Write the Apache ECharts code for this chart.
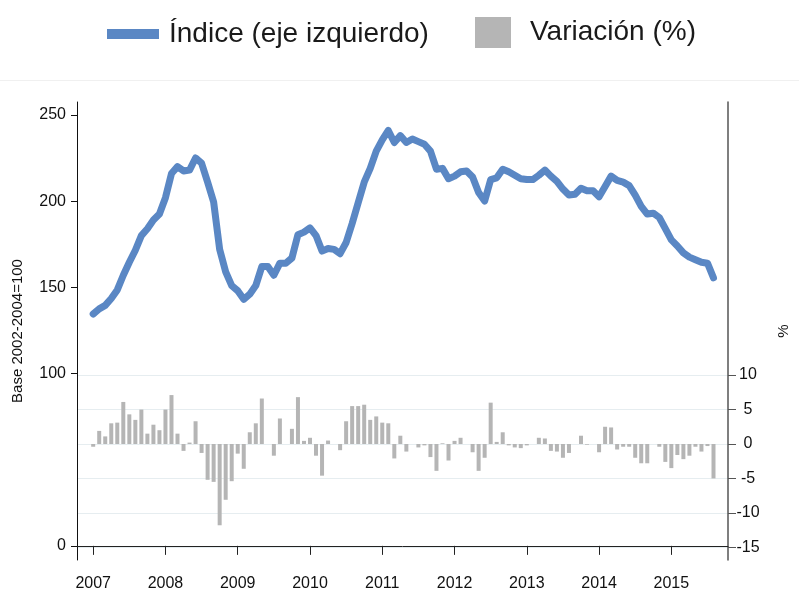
<!DOCTYPE html>
<html>
<head>
<meta charset="utf-8">
<title>Índice y variación</title>
<script src="https://cdn.jsdelivr.net/npm/echarts@6/dist/echarts.min.js"></script>
<style>
  html, body { margin: 0; padding: 0; background: #fff; }
  #chart { width: 799px; height: 592px; }
</style>
</head>
<body>
<div id="chart"></div>
<script>
// datos mensuales, enero 2007 - agosto 2015
const startYear = 2007;
const indice = [
  134.5, 137.5, 139.5, 143.5, 148.5, 157, 164.5, 171.5, 180, 184, 189, 192.5,
  202, 216, 220, 217.5, 218, 225, 222, 211, 199.5, 172, 159, 151,
  148, 143, 146, 151, 162, 162, 157, 164, 164, 167, 180.5, 182,
  184.5, 180, 171, 172.5, 172, 169.5, 176, 187, 199, 211, 219, 229,
  235.5, 241, 234, 238, 234, 236, 234.5, 233, 229, 218.5, 219, 213,
  214.5, 217, 217.5, 214, 205, 200, 212.5, 213.5, 218.5, 217, 215, 213,
  212.5, 212.5, 215, 218, 214.5, 211.5, 207, 203.5, 204, 207.5, 206, 206,
  202.5, 208.5, 214.5, 212, 211, 209, 203.5, 197, 192.5, 193, 190.5, 184,
  177.5, 174, 170, 167.5, 166, 164.5, 164, 155.5
];
const variacion = [
  -0.4, 1.9, 1.1, 3.0, 3.1, 6.1, 4.3, 3.5, 5.0, 1.5, 2.8, 2.0,
  5.0, 7.1, 1.5, -1.0, 0.2, 3.3, -1.3, -5.2, -5.5, -11.8, -8.1, -5.4,
  -1.4, -3.6, 1.7, 3.0, 6.6, 0, -1.7, 3.7, 0, 2.2, 6.8, 0.45,
  0.9, -1.7, -4.6, 0.5, 0, -0.9, 3.3, 5.5, 5.5, 5.7, 3.5, 4.0,
  3.1, 3.0, -2.1, 1.2, -1.1, 0, -0.5, -0.2, -1.9, -3.9, 0.1, -2.4,
  0.45, 0.9, 0, -1.2, -3.9, -2.0, 6.0, 0.3, 1.7, -0.2, -0.5, -0.6,
  -0.2, 0, 0.9, 0.8, -1.0, -1.1, -2.0, -1.3, 0, 1.2, -0.1, 0,
  -1.2, 2.5, 2.4, -0.8, -0.4, -0.4, -2.0, -2.8, -2.8, 0, -0.4, -2.6,
  -3.5, -1.6, -2.2, -1.7, -0.4, -1.1, -0.3, -5.0
];
const yearTicks = [2007, 2008, 2009, 2010, 2011, 2012, 2013, 2014, 2015];
const leftTicks = [0, 100, 150, 200, 250];
const rightTicks = [-15, -10, -5, 0, 5, 10];

const font = "'Liberation Sans', Arial, sans-serif";
const blue = '#5a87c4';
const grey = '#b5b5b5';

// posición de cada mes en años decimales
const toX = i => startYear + i / 12;
const lineData = indice.map((v, i) => [toX(i), v]);
const barData = variacion.map((v, i) => [toX(i), v]);

const chart = echarts.init(document.getElementById('chart'));
chart.setOption({
  animation: false,
  backgroundColor: '#fff',
  textStyle: { fontFamily: font },
  legend: [
    {
      data: ['Índice (eje izquierdo)'],
      left: 107, top: 20, padding: 0,
      icon: 'rect', itemWidth: 52, itemHeight: 10,
      textStyle: { fontSize: 28, color: '#1a1a1a', fontFamily: font, padding: [0, 0, 0, 5] }
    },
    {
      data: ['Variación (%)'],
      left: 475, top: 17, padding: 0,
      icon: 'rect', itemWidth: 36, itemHeight: 31,
      textStyle: { fontSize: 28, color: '#1a1a1a', fontFamily: font, padding: [0, 0, 0, 14] }
    }
  ],
  graphic: [{
    type: 'line', silent: true,
    shape: { x1: 0, y1: 80.5, x2: 799, y2: 80.5 },
    style: { stroke: '#f0f0f0', lineWidth: 1 }
  }],
  grid: { left: 77, right: 68, top: 102, bottom: 31 },
  xAxis: {
    type: 'value',
    min: 2006.776, max: 2015.784,
    axisLine: { show: true, lineStyle: { color: '#222', width: 1 } },
    axisTick: { show: true, customValues: yearTicks, length: 9, lineStyle: { color: '#222' } },
    axisLabel: {
      customValues: yearTicks, formatter: v => String(Math.round(v)),
      fontSize: 16, color: '#111', margin: 16, fontFamily: font
    },
    splitLine: { show: false }
  },
  yAxis: [
    {
      type: 'value', position: 'left',
      min: -8.2, max: 257.5,
      name: 'Base 2002-2004=100', nameLocation: 'middle', nameGap: 52,
      nameTextStyle: { fontSize: 15, color: '#111', fontFamily: font },
      axisLine: { show: true, lineStyle: { color: '#111', width: 1 } },
      axisTick: { show: true, customValues: leftTicks, length: 6, lineStyle: { color: '#111' } },
      axisLabel: { customValues: leftTicks, fontSize: 16, color: '#111', margin: 11, fontFamily: font },
      splitLine: { show: false }
    },
    {
      type: 'value', position: 'right',
      min: -16.84, max: 49.64,
      name: '%', nameLocation: 'middle', nameGap: 48, nameRotate: 90,
      nameTextStyle: { fontSize: 15, color: '#111', fontFamily: font },
      axisLine: { show: true, lineStyle: { color: '#555', width: 1.5 } },
      axisTick: { show: true, customValues: rightTicks, length: 8, lineStyle: { color: '#555' } },
      axisLabel: { customValues: rightTicks, align: 'center', fontSize: 16, color: '#111', margin: 20, fontFamily: font },
      splitLine: { show: false }
    }
  ],
  series: [
    {
      // líneas de referencia del eje derecho
      name: 'grid', type: 'line', yAxisIndex: 1, data: [], z: 0, silent: true,
      markLine: {
        silent: true, symbol: 'none', z: 0,
        label: { show: false },
        lineStyle: { color: '#e6edf0', width: 1.2, type: 'solid' },
        data: rightTicks.map(v => ({ yAxis: v }))
      }
    },
    {
      name: 'Variación (%)', type: 'bar', yAxisIndex: 1,
      data: barData, barWidth: 4, z: 2,
      itemStyle: { color: grey }
    },
    {
      name: 'Índice (eje izquierdo)', type: 'line', yAxisIndex: 0,
      data: lineData, color: blue, z: 3,
      showSymbol: false, smooth: false,
      lineStyle: { color: blue, width: 7, join: 'round', cap: 'round' },
      itemStyle: { color: blue }
    }
  ]
});
</script>
</body>
</html>
